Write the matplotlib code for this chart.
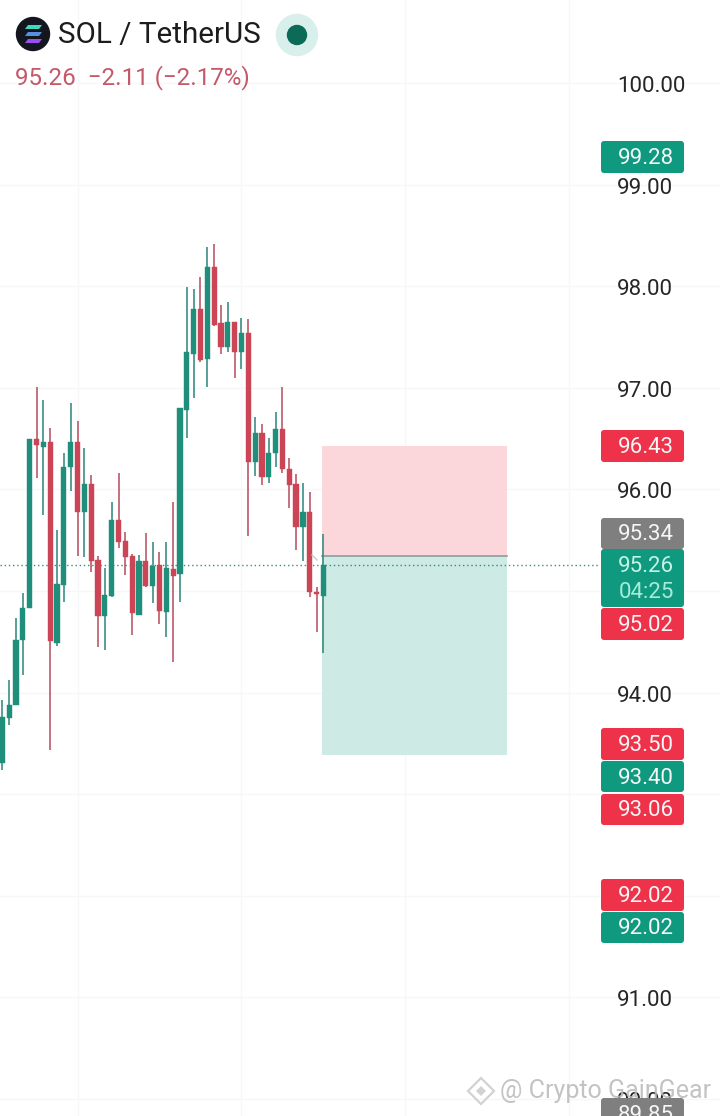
import matplotlib
matplotlib.use('Agg')
import numpy as np
import matplotlib.pyplot as plt
from matplotlib.patches import Circle, FancyBboxPatch, Polygon
from matplotlib.transforms import ScaledTranslation

plt.rcParams['font.family'] = ['Roboto', 'DejaVu Sans']

# Candles
opens = [93.31, 93.75, 93.88, 94.52, 94.83, 96.50, 96.42, 96.47, 94.49, 95.06, 96.22, 96.47,
         95.78, 96.05, 95.31, 94.75, 94.95, 95.70, 95.49, 95.34, 94.76, 95.30, 95.05, 95.26,
         94.79, 95.22, 95.17, 96.78, 97.33, 97.78, 97.28, 98.19, 97.64, 97.40, 97.65, 97.35,
         97.54, 96.27, 96.56, 96.12, 96.36, 96.59, 96.20, 96.05, 95.63, 95.78, 94.99, 94.95]
highs = [93.93, 94.12, 94.73, 94.98, 96.50, 97.01, 96.88, 96.60, 95.60, 96.36, 96.85, 96.67,
         96.41, 96.14, 95.34, 95.23, 95.88, 96.16, 95.58, 95.36, 95.35, 95.57, 95.48, 95.38,
         95.48, 95.88, 96.80, 97.99, 97.97, 98.09, 98.39, 98.42, 97.82, 97.84, 97.65, 97.69,
         97.68, 96.71, 96.64, 96.51, 96.76, 97.01, 96.31, 96.15, 96.06, 95.97, 95.04, 95.56]
lows = [93.24, 93.68, 93.88, 94.17, 94.83, 96.11, 95.75, 93.44, 94.46, 94.89, 95.98, 95.34,
        95.33, 95.19, 94.45, 94.42, 94.94, 95.42, 95.16, 94.57, 94.76, 95.04, 94.88, 94.68,
        94.55, 94.30, 94.89, 96.51, 96.90, 97.25, 97.01, 97.61, 97.33, 97.35, 97.10, 97.19,
        95.54, 96.13, 96.04, 96.06, 96.22, 96.16, 95.82, 95.40, 95.30, 94.94, 94.60, 94.39]
closes = [93.76, 93.88, 94.52, 94.83, 96.50, 96.44, 96.47, 94.51, 95.07, 96.22, 96.47, 95.78,
          96.05, 95.30, 94.75, 94.96, 95.70, 95.48, 95.33, 94.78, 95.30, 95.05, 95.25, 94.80,
          95.23, 95.15, 96.80, 97.35, 97.78, 97.27, 98.19, 97.62, 97.40, 97.65, 97.35, 97.54,
          96.27, 96.56, 96.12, 96.36, 96.59, 96.20, 96.04, 95.63, 95.78, 94.99, 94.97, 95.26]

# Price axis and position tool
price_ticks = [90, 91, 92, 93, 94, 95, 96, 97, 98, 99, 100]
price_labels = ['90.00', '91.00', '', '', '94.00', '', '96.00', '97.00', '98.00', '99.00', '100.00']
time_ticks = [11, 35, 59, 83]
last_price = 95.26
entry = 95.34
stop = 96.43
target = 93.385
box_start = 46.8
box_end = 73.9

# Price tags on the right
tag_labels = ['99.28', '96.43', '95.34', '95.02', '93.50', '93.40', '93.06', '92.02', '92.02', '89.85']
tag_kinds = ['g', 'r', 'n', 'r', 'r', 'g', 'r', 'r', 'g', 'n']

GREEN = '#1f8e7b'
RED = '#cc4556'
WICK_G = '#2a857a'
WICK_R = '#b54a5c'
TAG_COL = {'g': '#0f9a80', 'r': '#ee3249', 'n': '#7f7f7f'}

fig = plt.figure(figsize=(7.2, 11.16), dpi=100)
ax = fig.add_axes([0, 0, 1, 1])
ax.set_xlim(-0.351, 105.07)
ax.set_ylim(89.833, 100.817)

# Grid
ax.set_xticks(time_ticks)
ax.set_yticks(price_ticks)
ax.set_xticklabels([])
ax.set_yticklabels(price_labels)
ax.grid(True, color='#f6f7f8', linewidth=1)
ax.set_axisbelow(True)
ax.yaxis.tick_right()
ax.tick_params(axis='both', length=0)
ax.tick_params(axis='y', direction='in', pad=-74, labelsize=16, labelcolor='#262626')
# labels sit about a pixel lower than the tick
shift = ScaledTranslation(0, -1 / 100, fig.dpi_scale_trans)
for lab in ax.get_yticklabels():
    lab.set_transform(lab.get_transform() + shift)
for s in ax.spines.values():
    s.set_visible(False)

# Position box
ax.fill_between([box_start, box_end], entry, stop, color='#fbd6da', linewidth=0, zorder=1)
ax.fill_between([box_start, box_end], target, entry, color='#cdeae4', linewidth=0, zorder=1)
ax.plot([box_start, box_end], [entry, entry], color='#8b9f9b', linewidth=1.2, zorder=2)

# Last price line
ax.axhline(last_price, xmax=600 / 720, color='#2f8f80', linewidth=1, linestyle=(0, (1, 2)), zorder=2)

# Candles
idx = np.arange(len(opens))
o = np.array(opens)
c = np.array(closes)
cols = [GREEN if c[i] >= o[i] else RED for i in idx]
wicks = [WICK_G if c[i] >= o[i] else WICK_R for i in idx]
ax.vlines(idx, lows, highs, colors=wicks, linewidth=1.1, zorder=3)
ax.bar(idx, np.abs(c - o), bottom=np.minimum(o, c), width=0.76, color=cols, linewidth=0.3,
       edgecolor=cols, zorder=4)

# Overlay in pixels for the header and tags
ov = fig.add_axes([0, 0, 1, 1])
ov.set_xlim(0, 720)
ov.set_ylim(1116, 0)
ov.axis('off')
ov.patch.set_alpha(0)

# little grey drawing mark next to the box
ov.plot([312, 317], [555, 560], color='#c9c9c9', linewidth=1)

# Title row
ov.add_patch(Circle((33, 34), 16.5, color='#14161f'))
for y0, col in zip([27, 34, 41], ['#3fd8c0', '#5a8fe0', '#9a50f0']):
    ov.add_patch(Polygon([[25, y0 + 2], [28, y0 - 2], [42, y0 - 2], [39, y0 + 2]],
                         closed=True, color=col, linewidth=0))
ov.text(58, 35, 'SOL / TetherUS', fontsize=21.3, color='#1c1c1c', va='center', ha='left')
ov.add_patch(Circle((297, 35), 20.5, color='#d8efeb'))
ov.add_patch(Circle((297, 35), 9.5, color='#0b6b57'))
ov.text(15, 78, '95.26  \u22122.11 (\u22122.17%)', fontsize=17.4, color='#c4596a', va='center', ha='left')

# Tags
tag_tops = [141, 430, 518, 608, 728, 761, 794, 879, 912, 1098]
tag_hts = [32, 32, 31, 32, 32, 31, 31, 32, 31, 32]
for lab, kind, top, h in zip(tag_labels, tag_kinds, tag_tops, tag_hts):
    ov.add_patch(FancyBboxPatch((601, top), 83, h, boxstyle='round,pad=0,rounding_size=3',
                                facecolor=TAG_COL[kind], edgecolor='none', zorder=5))
    ov.text(646, top + h / 2 + 1.5, lab, fontsize=16, color='#f6f6f6', ha='center', va='center', zorder=6)

# Current price tag has the countdown under it
ov.add_patch(FancyBboxPatch((601, 549), 83, 58, boxstyle='round,pad=0,rounding_size=3',
                            facecolor=TAG_COL['g'], edgecolor='none', zorder=5))
ov.text(646, 566, '%.2f' % last_price, fontsize=16, color='#c4f3e6', ha='center', va='center', zorder=6)
ov.text(646, 593, '04:25', fontsize=16, color='#a5ecd9', ha='center', va='center', zorder=6)

# Watermark
wm = '#d2d2d2'
ov.add_patch(Polygon([[481, 1078], [494, 1091], [481, 1104], [468, 1091]], closed=True,
                     facecolor='none', edgecolor=wm, linewidth=1.6, zorder=7))
ov.add_patch(Polygon([[481, 1086], [486, 1091], [481, 1096], [476, 1091]], closed=True,
                     facecolor=wm, edgecolor='none', zorder=7))
ov.text(500, 1091, '@ Crypto GainGear', fontsize=18, color='#b9b9b9', alpha=0.85, ha='left',
        va='center', zorder=7, clip_on=True)

plt.savefig('out.png', dpi=100)
